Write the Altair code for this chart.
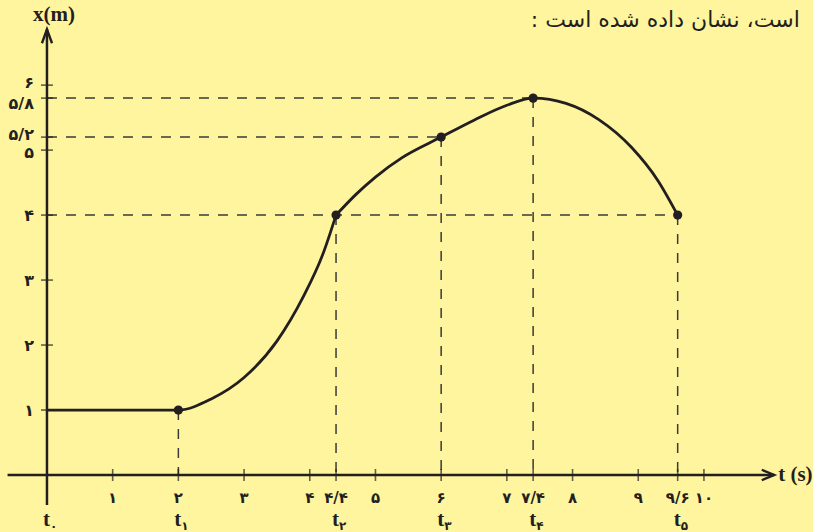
import altair as alt
import pandas as pd

# ---- data -------------------------------------------------------------
# position–time curve x(t), in two pieces that meet at t2 = 4.4 s
rise_t = [0, 2, 2.5, 3, 3.5, 3.9, 4.2, 4.4]
rise_x = [1, 1, 1.17, 1.5, 2.06, 2.74, 3.4, 4]
arc_t = [4.4, 4.7, 5.0, 5.4, 6, 6.5, 7.0, 7.4, 7.9, 8.4, 8.9, 9.3, 9.6]
arc_x = [4, 4.315, 4.585, 4.88, 5.2, 5.46, 5.69, 5.8, 5.72, 5.47, 5.04, 4.53, 4]

# marked instants t1..t5 and their positions
mark_t = [2, 4.4, 6, 7.4, 9.6]
mark_x = [1, 4, 5.2, 5.8, 4]

# instant names under the time axis (t0 .. t5)
name_t = [0, 2, 4.4, 6, 7.4, 9.6]
name_sub = ["۰", "۱", "۲", "۳", "۴", "۵"]

# time axis ticks
xtick_vals = [1, 2, 3, 4, 4.4, 5, 6, 7, 7.4, 8, 9, 9.6, 10]
xtick_labels = ["۱", "۲", "۳", "۴", "۴/۴", "۵", "۶", "۷", "۷/۴", "۸", "۹", "۹/۶", "۱۰"]

# position axis ticks
ytick_vals = [1, 2, 3, 4, 5, 5.2, 5.8, 6]
ytick_labels = ["۱", "۲", "۳", "۴", "۵", "۵/۲", "۵/۸", "۶"]

# ---- styling ----------------------------------------------------------
BG = "#FFF59E"
INK = "#231F20"
DASH = "#3A3A3A"
DIGIT_FONT = "DejaVu Sans"
LATIN_FONT = "Liberation Serif"

xs = alt.Scale(domain=[-0.715, 11.66], nice=False, zero=False)
ys = alt.Scale(domain=[-0.877, 7.31], nice=False, zero=False)


def X(field):
    return alt.X(f"{field}:Q", scale=xs, axis=None)


def Y(field):
    return alt.Y(f"{field}:Q", scale=ys, axis=None)


curve_df = pd.concat([
    pd.DataFrame({"t": rise_t, "x": rise_x, "piece": "rise"}),
    pd.DataFrame({"t": arc_t, "x": arc_x, "piece": "arc"}),
], ignore_index=True)
marks_df = pd.DataFrame({"t": mark_t, "x": mark_x, "zero": 0.0})

# dashed guides: horizontal ones run from the position axis to the point
h_guides = pd.DataFrame({
    "t0": [0, 0, 0],
    "t1": [9.6, 6, 7.4],
    "x": [4, 5.2, 5.8],
})

# axis lines
axes_df = pd.DataFrame({
    "t0": [-0.6, 0], "t1": [11.07, 0],
    "x0": [0, -0.46], "x1": [0, 6.86],
})

h_dash = alt.Chart(h_guides).mark_rule(
    color=DASH, strokeWidth=1.5, strokeDash=[10, 9]
).encode(x=X("t0"), x2="t1", y=Y("x"))

v_dash = alt.Chart(marks_df).mark_rule(
    color=DASH, strokeWidth=1.5, strokeDash=[10, 9]
).encode(x=X("t"), y=Y("x"), y2="zero")

axes = alt.Chart(axes_df).mark_rule(color=INK, strokeWidth=2.5).encode(
    x=X("t0"), x2="t1", y=Y("x0"), y2="x1"
)

arrow_t = alt.Chart(pd.DataFrame({"t": [11.07], "x": [0]})).mark_point(
    shape="M-1,-0.42L0,0L-1,0.42", size=625, filled=False,
    stroke=INK, strokeWidth=2.4, opacity=1
).encode(x=X("t"), y=Y("x"))

arrow_x = alt.Chart(pd.DataFrame({"t": [0], "x": [6.86]})).mark_point(
    shape="M-0.36,1L0,0L0.36,1", size=784, filled=False,
    stroke=INK, strokeWidth=2.4, opacity=1
).encode(x=X("t"), y=Y("x"))

xt_df = pd.DataFrame({"t": xtick_vals, "label": xtick_labels, "x": 0.0})
yt_df = pd.DataFrame({"x": ytick_vals, "label": ytick_labels, "t": 0.0})

x_ticks = alt.Chart(xt_df).mark_tick(
    color=INK, orient="vertical", size=12, thickness=1.6
).encode(x=X("t"), y=Y("x"))

y_ticks = alt.Chart(yt_df).mark_tick(
    color=INK, orient="horizontal", size=12, thickness=1.6
).encode(x=X("t"), y=Y("x"))

x_labels = alt.Chart(xt_df).mark_text(
    font=DIGIT_FONT, fontSize=15, fontWeight="bold", color=INK,
    baseline="middle", align="center", dy=23
).encode(x=X("t"), y=Y("x"), text="label:N")


def y_label_layer(values, dy):
    """Position-axis labels for the given tick values, nudged vertically."""
    return alt.Chart(yt_df).transform_filter(
        alt.FieldOneOfPredicate(field="x", oneOf=values)
    ).mark_text(
        font=DIGIT_FONT, fontSize=16, fontWeight="bold", color=INK,
        baseline="middle", align="right", dx=-13, dy=dy
    ).encode(x=X("t"), y=Y("x"), text="label:N")


y_labels = alt.layer(
    y_label_layer([1, 2, 3, 4], 1),
    y_label_layer([6], -2),
    y_label_layer([5.8], 6),
    y_label_layer([5.2], -2),
    y_label_layer([5], 3),
)

names_df = pd.DataFrame({"t": name_t, "sub": name_sub, "x": 0.0, "tt": "t"})

name_t_text = alt.Chart(names_df).mark_text(
    font=LATIN_FONT, fontSize=21, fontWeight="bold", color=INK,
    baseline="alphabetic", align="right", dx=3, dy=51
).encode(x=X("t"), y=Y("x"), text="tt:N")

name_sub_text = alt.Chart(names_df).mark_text(
    font=DIGIT_FONT, fontSize=12, fontWeight="bold", color=INK,
    baseline="alphabetic", align="left", dx=3, dy=55
).encode(x=X("t"), y=Y("x"), text="sub:N")

curve = alt.Chart(curve_df).mark_line(
    color=INK, strokeWidth=2.8, interpolate="monotone"
).encode(x=X("t"), y=Y("x"), detail="piece:N", order="t:Q")

dots = alt.Chart(marks_df).mark_circle(color=INK, size=85, opacity=1).encode(
    x=X("t"), y=Y("x")
)

name_x = alt.Chart(pd.DataFrame({"t": [0], "x": [7.08], "label": ["x(m)"]})).mark_text(
    font=LATIN_FONT, fontSize=21, fontWeight="bold", color=INK,
    baseline="middle", align="center", dx=7
).encode(x=X("t"), y=Y("x"), text="label:N")

name_tt = alt.Chart(pd.DataFrame({"t": [11.13], "x": [0], "label": ["t (s)"]})).mark_text(
    font=LATIN_FONT, fontSize=21, fontWeight="bold", color=INK,
    baseline="middle", align="left"
).encode(x=X("t"), y=Y("x"), text="label:N")

caption = alt.Chart(pd.DataFrame({
    "t": [11.46], "x": [7.0], "label": ["است، نشان داده شده است :\u200f"]
})).mark_text(
    font=DIGIT_FONT, fontSize=22, color=INK, baseline="middle", align="right"
).encode(x=X("t"), y=Y("x"), text="label:N")

chart = alt.layer(
    h_dash, v_dash, axes, arrow_t, arrow_x, x_ticks, y_ticks,
    x_labels, y_labels, name_t_text, name_sub_text,
    curve, dots, name_x, name_tt, caption,
).properties(
    width=813, height=532,
    autosize=alt.AutoSizeParams(type="none"),
    padding=0,
    background=BG,
).configure_view(stroke=None)

chart.save("out.html", embed_options={"renderer": "svg", "actions": False})
